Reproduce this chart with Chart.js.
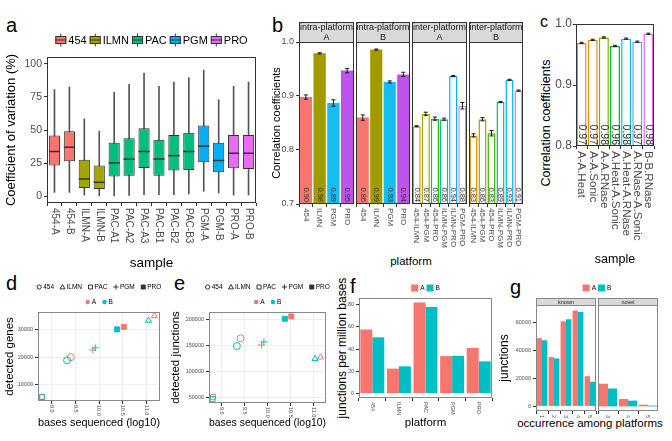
<!DOCTYPE html>
<html>
<head>
<meta charset="utf-8">
<title>Platform comparison</title>
<script src="https://cdn.jsdelivr.net/npm/chart.js@4.4.1/dist/chart.umd.min.js"></script>
<style>
  body { margin: 0; background: #fff; }
  #fig { position: relative; width: 672px; height: 441px; overflow: hidden; font-family: 'Liberation Sans', Arial, sans-serif; color: #000; }
  #fig canvas { position: absolute; }
  .txt { position: absolute; line-height: 1; white-space: nowrap; }
  .mid { transform: translate(-50%, -50%); }
  .up { transform: translate(-50%, -50%) rotate(-90deg); }
</style>
</head>
<body>
<div id="fig">
  <div class="txt" style="left:6px;top:15px;font-size:20px">a</div>
  <div class="txt" style="left:272px;top:15px;font-size:20px">b</div>
  <div class="txt" style="left:540px;top:14px;font-size:16px">c</div>
  <div class="txt" style="left:6px;top:273px;font-size:20px">d</div>
  <div class="txt" style="left:174px;top:273px;font-size:20px">e</div>
  <div class="txt" style="left:350px;top:276px;font-size:20px">f</div>
  <div class="txt" style="left:510px;top:277px;font-size:20px">g</div>
  <div class="txt mid" style="left:411px;top:262px;font-size:11.5px">platform</div>
  <div class="txt up" style="left:546px;top:123px;font-size:12.5px">Correlation coefficients</div>
  <div class="txt up" style="left:342px;top:348px;font-size:12px">junctions per million bases</div>
  <div class="txt mid" style="left:590px;top:424px;font-size:11.5px">occurrence among platforms</div>
</div>
<script>
// ---- data ----
var platforms = ['454', 'ILMN', 'PAC', 'PGM', 'PRO'];
var platformColors = ['#F8766D', '#A3A500', '#00BF7D', '#00B0F6', '#E76BF3'];

// a: coefficient of variation per sample (box plot stats)
var samples = ['454-A', '454-B', 'ILMN-A', 'ILMN-B', 'PAC-A1', 'PAC-A2', 'PAC-A3', 'PAC-B1', 'PAC-B2', 'PAC-B3', 'PGM-A', 'PGM-B', 'PRO-A', 'PRO-B'];
var samplePlatform = ['454', '454', 'ILMN', 'ILMN', 'PAC', 'PAC', 'PAC', 'PAC', 'PAC', 'PAC', 'PGM', 'PGM', 'PRO', 'PRO'];
var cvLow = [3, 3, 1, 0.5, 0, 0.8, 1.3, 1.3, 1.3, 1.8, 3.8, 2.5, 1, 1];
var cvQ1 = [23.2, 26.4, 6.3, 5.5, 14.9, 15.6, 21.4, 15.6, 19.4, 19.9, 25.7, 18.1, 21.2, 20.7];
var cvMedian = [33.8, 37.0, 13.1, 10.6, 25.2, 28.0, 33.8, 28.2, 30.7, 33.8, 37.8, 27.0, 32.5, 32.5];
var cvQ3 = [45.8, 49.1, 27.5, 23.2, 40.3, 43.8, 51.4, 42.6, 46.3, 47.9, 53.4, 40.3, 46.3, 46.3];
var cvHigh = [80.4, 82.4, 58.4, 49.1, 78.6, 84.4, 92.9, 82.9, 86.1, 89.4, 95.0, 72.8, 82.9, 86.1];
var cvTicks = [0, 25, 50, 75, 100];

// b: correlation coefficients
var intraCats = ['454', 'ILMN', 'PGM', 'PRO'];
var intraColors = ['#F8766D', '#A39A00', '#14BEF0', '#BE52EC'];
var intraA = [0.898, 0.979, 0.887, 0.947];
var intraAErr = [0.004, 0.001, 0.006, 0.004];
var intraB = [0.860, 0.986, 0.926, 0.940];
var intraBErr = [0.005, 0.001, 0.002, 0.004];
var interCats = ['454-ILMN', '454-PGM', '454-PRO', 'ILMN-PGM', 'ILMN-PRO', 'PGM-PRO'];
var interColors = ['#D89000', '#A3A500', '#39B600', '#00BF9A', '#00B4F0', '#E07BF0'];
var interA = [0.844, 0.867, 0.858, 0.857, 0.937, 0.882];
var interAErr = [0.001, 0.003, 0.003, 0.002, 0.001, 0.006];
var interB = [0.827, 0.857, 0.831, 0.889, 0.930, 0.910];
var interBErr = [0.003, 0.003, 0.005, 0.001, 0.001, 0.001];
var corrTicks = [0.7, 0.8, 0.9, 1.0];

// c: correlation between library preparations
var pairCats = ['A-A.Heat', 'A-A.Sonic', 'A-A.RNase', 'A.Heat-A.Sonic', 'A.Heat-A.RNase', 'A.RNase-A.Sonic', 'B-B.RNase'];
var pairColors = ['#F8766D', '#E08B00', '#7CAE00', '#00BA38', '#00BFC4', '#619CFF', '#E76BF3'];
var pairCorr = [0.969, 0.974, 0.978, 0.964, 0.976, 0.971, 0.984];
var pairErr = [0.001, 0.001, 0.001, 0.001, 0.001, 0.001, 0.001];
var pairTicks = [0.8, 0.9, 1.0];

// d, e: per platform (order of platforms), samples A and B
var groups = ['A', 'B'];
var groupColors = ['#F8766D', '#00BFC4'];
var shapes = ['circle', 'triangle', 'rect', 'cross', 'rect'];
var basesA = [9.41, 11.16, 8.81, 9.87, 10.52];
var basesB = [9.33, 11.04, 8.80, 9.92, 10.38];
var genesA = [20000, 35000, 5600, 22600, 31000];
var genesB = [18900, 33300, 5500, 23400, 30100];
var junctionsA = [164000, 127500, 51500, 151000, 206000];
var junctionsB = [149000, 124500, 47500, 157000, 201500];
var baseTicks = [9.0, 9.5, 10.0, 10.5, 11.0];
var geneTicks = [10000, 20000, 30000];
var junctionTicks = [50000, 100000, 150000, 200000];

// f: junctions per million bases
var jpmA = [57.6, 22.4, 82.0, 33.7, 41.1];
var jpmB = [50.6, 24.5, 77.9, 34.0, 29.0];
var jpmTicks = [0, 20, 40, 60, 80];

// g: junction occurrence among platforms
var knownCats = ['1', '2', '3', '4', '5'];
var knownA = [48800, 35200, 60800, 68500, 21600];
var knownB = [47300, 34300, 62300, 67500, 17600];
var novelCats = ['3', '4', '5'];
var novelA = [16200, 5300, 1200];
var novelB = [12800, 4100, 600];
var occTicks = [0, 20000, 40000, 60000];

// ---- setup ----
var FONT = "'Liberation Sans', Arial, sans-serif";
Chart.defaults.font.family = FONT;
Chart.defaults.color = '#4D4D4D';
Chart.defaults.animation = false;
Chart.defaults.responsive = false;
Chart.defaults.devicePixelRatio = 1;
Chart.defaults.events = [];
Chart.defaults.plugins.legend.display = false;
Chart.defaults.plugins.tooltip.enabled = false;

function canvasAt(left, top, w, h) {
  var c = document.createElement('canvas');
  c.width = w; c.height = h;
  c.style.left = left + 'px'; c.style.top = top + 'px';
  c.style.width = w + 'px'; c.style.height = h + 'px';
  document.getElementById('fig').appendChild(c);
  return c.getContext('2d');
}
function fixWidth(w) { return function (s) { s.width = w; }; }
function fixHeight(h) { return function (s) { s.height = h; }; }
function useTicks(vals) { return function (s) { s.ticks = vals.map(function (v) { return { value: v }; }); }; }
function tickGrid(onArea) {
  return { drawOnChartArea: !!onArea, color: '#EEEEEE', tickLength: 3, tickColor: '#333' };
}

// ---- plugins ----
var frame = {
  id: 'frame',
  afterDraw: function (chart, args, o) {
    var a = chart.chartArea, ctx = chart.ctx;
    ctx.save();
    ctx.strokeStyle = o.color || '#333';
    ctx.lineWidth = 1;
    ctx.strokeRect(Math.round(a.left) + 0.5, Math.round(a.top) + 0.5, Math.round(a.right - a.left) - 1, Math.round(a.bottom - a.top) - 1);
    ctx.restore();
  }
};

var strip = {
  id: 'strip',
  beforeDraw: function (chart, args, o) {
    if (!o.lines) return;
    var a = chart.chartArea, ctx = chart.ctx, h = o.height;
    ctx.save();
    ctx.fillStyle = '#D9D9D9';
    ctx.fillRect(a.left, a.top - h, a.right - a.left, h);
    ctx.strokeStyle = o.border || '#333';
    ctx.lineWidth = 1;
    ctx.strokeRect(Math.round(a.left) + 0.5, Math.round(a.top - h) + 0.5, Math.round(a.right - a.left) - 1, h);
    ctx.fillStyle = '#1A1A1A';
    ctx.font = o.size + 'px ' + FONT;
    ctx.textAlign = 'center';
    ctx.textBaseline = 'middle';
    o.lines.forEach(function (t, i) {
      ctx.fillText(t, (a.left + a.right) / 2, a.top - h + (i + 0.5) * h / o.lines.length + 0.5);
    });
    ctx.restore();
  }
};

// x tick labels turned clockwise, as in the figure
var vLabels = {
  id: 'vLabels',
  afterDraw: function (chart, args, o) {
    if (!o.size) return;
    var s = chart.scales.x, ctx = chart.ctx;
    ctx.save();
    ctx.font = o.size + 'px ' + FONT;
    ctx.fillStyle = '#4D4D4D';
    ctx.textAlign = 'left';
    ctx.textBaseline = 'middle';
    s.ticks.forEach(function (t, i) {
      ctx.save();
      ctx.translate(s.getPixelForTick(i), chart.chartArea.bottom + o.gap);
      ctx.rotate(Math.PI / 2);
      ctx.fillText(t.label, 0, 0);
      ctx.restore();
    });
    ctx.restore();
  }
};

var errBars = {
  id: 'errBars',
  afterDatasetsDraw: function (chart, args, o) {
    if (!o.err) return;
    var ctx = chart.ctx, y = chart.scales.y, vals = chart.data.datasets[0].data;
    ctx.save();
    ctx.strokeStyle = '#1A1A1A';
    ctx.lineWidth = 1;
    chart.getDatasetMeta(0).data.forEach(function (bar, i) {
      var top = y.getPixelForValue(vals[i] + o.err[i]), bot = y.getPixelForValue(vals[i] - o.err[i]);
      ctx.beginPath();
      ctx.moveTo(bar.x, top); ctx.lineTo(bar.x, bot);
      ctx.moveTo(bar.x - o.cap, top); ctx.lineTo(bar.x + o.cap, top);
      ctx.moveTo(bar.x - o.cap, bot); ctx.lineTo(bar.x + o.cap, bot);
      ctx.stroke();
    });
    ctx.restore();
  }
};

// value written upright inside the bottom of each bar
var barText = {
  id: 'barText',
  afterDatasetsDraw: function (chart, args, o) {
    if (!o.size) return;
    var ctx = chart.ctx, vals = chart.data.datasets[0].data;
    ctx.save();
    ctx.font = o.size + 'px ' + FONT;
    ctx.fillStyle = '#333';
    ctx.textAlign = 'right';
    ctx.textBaseline = 'middle';
    chart.getDatasetMeta(0).data.forEach(function (bar, i) {
      ctx.save();
      ctx.translate(bar.x, chart.chartArea.bottom - o.gap);
      ctx.rotate(Math.PI / 2);
      ctx.fillText(vals[i].toFixed(2), 0, 0);
      ctx.restore();
    });
    ctx.restore();
  }
};

var medians = {
  id: 'medians',
  afterDatasetsDraw: function (chart, args, o) {
    if (!o.values) return;
    var ctx = chart.ctx, y = chart.scales.y;
    ctx.save();
    ctx.strokeStyle = '#333';
    ctx.lineWidth = 1.5;
    chart.getDatasetMeta(o.dataset).data.forEach(function (bar, i) {
      var py = y.getPixelForValue(o.values[i]);
      ctx.beginPath();
      ctx.moveTo(bar.x - bar.width / 2, py);
      ctx.lineTo(bar.x + bar.width / 2, py);
      ctx.stroke();
    });
    ctx.restore();
  }
};

// keyShape / keyFill / keyText: own names so chart option defaults never leak in
function drawSymbol(ctx, it, x, y, s) {
  var r = s / 2, shape = it.keyShape, paint = it.keyFill || '';
  ctx.save();
  ctx.lineWidth = 1;
  ctx.strokeStyle = '#333';
  if (paint) ctx.fillStyle = paint;
  if (shape === 'box') {
    ctx.beginPath(); ctx.moveTo(x, y - r - 1); ctx.lineTo(x, y + r + 1); ctx.stroke();
    ctx.fillRect(x - r, y - 4, s, 8);
    ctx.strokeRect(x - r + 0.5, y - 3.5, s - 1, 7);
    ctx.beginPath(); ctx.moveTo(x - r, y); ctx.lineTo(x + r, y); ctx.stroke();
  } else if (shape === 'swatch') {
    ctx.fillRect(x - r, y - r, s, s);
  } else if (shape === 'dot') {
    ctx.beginPath(); ctx.arc(x, y, r * 0.9, 0, Math.PI * 2); ctx.fill();
  } else {
    ctx.beginPath();
    if (shape === 'circle') ctx.arc(x, y, r * 0.85, 0, Math.PI * 2);
    if (shape === 'triangle') { ctx.moveTo(x, y - r); ctx.lineTo(x + r, y + r * 0.75); ctx.lineTo(x - r, y + r * 0.75); ctx.closePath(); }
    if (shape === 'square') ctx.rect(x - r * 0.8, y - r * 0.8, r * 1.6, r * 1.6);
    if (shape === 'cross') { ctx.moveTo(x - r, y); ctx.lineTo(x + r, y); ctx.moveTo(x, y - r); ctx.lineTo(x, y + r); }
    if (paint) ctx.fill();
    ctx.stroke();
  }
  ctx.restore();
}

// ggplot-like legend rows placed above the panel
var keys = {
  id: 'keys',
  afterDraw: function (chart, args, o) {
    if (!o.rows) return;
    var ctx = chart.ctx, a = chart.chartArea;
    ctx.save();
    ctx.font = o.size + 'px ' + FONT;
    ctx.textAlign = 'left';
    ctx.textBaseline = 'middle';
    o.rows.forEach(function (row) {
      var items = row.items;
      var widths = items.map(function (it) { return o.sym + o.gap + ctx.measureText(it.keyText).width; });
      var total = widths.reduce(function (t, w) { return t + w; }, 0) + o.sep * (widths.length - 1);
      var cx = o.cx ? a.left + o.cx : (a.left + a.right) / 2;
      var x = cx - total / 2, y = a.top + row.dy;
      items.forEach(function (it, i) {
        drawSymbol(ctx, it, x + o.sym / 2, y, o.sym);
        ctx.fillStyle = '#000';
        ctx.fillText(it.keyText, x + o.sym + o.gap, y + 0.5);
        x += widths[i] + o.sep;
      });
    });
    ctx.restore();
  }
};

// ---- a: box plots ----
new Chart(canvasAt(0, 27, 260, 248), {
  type: 'bar',
  data: {
    labels: samples,
    datasets: [{
      data: samples.map(function (s, i) { return [cvLow[i], cvHigh[i]]; }),
      backgroundColor: '#555',
      barThickness: 1,
      grouped: false,
      order: 2
    }, {
      data: samples.map(function (s, i) { return [cvQ1[i], cvQ3[i]]; }),
      backgroundColor: samplePlatform.map(function (p) { return platformColors[platforms.indexOf(p)]; }),
      borderColor: '#333',
      borderWidth: 1,
      borderSkipped: false,
      barPercentage: 0.75,
      categoryPercentage: 1,
      grouped: false,
      order: 1
    }]
  },
  options: {
    layout: { padding: { top: 30, right: 4 } },
    scales: {
      x: {
        ticks: { display: false },
        grid: tickGrid(false),
        border: { display: false },
        afterFit: fixHeight(72),
        title: { display: true, text: 'sample', color: '#000', font: { size: 13.5 }, padding: { top: 0, bottom: 4 } }
      },
      y: {
        min: -5, max: 105,
        afterBuildTicks: useTicks(cvTicks),
        ticks: { font: { size: 10.5 }, padding: 2, callback: function (v) { return String(v); } },
        grid: tickGrid(false),
        border: { display: false },
        afterFit: fixWidth(47),
        title: { display: true, text: 'Coefficient of variation (%)', color: '#000', font: { size: 13 }, padding: { top: 4, bottom: 0 } }
      }
    },
    plugins: {
      medians: { dataset: 1, values: cvMedian },
      vLabels: { size: 10, gap: 5 },
      keys: {
        size: 11, sym: 11, gap: 2, sep: 3,
        rows: [{ dy: -17, items: platforms.map(function (p, i) { return { keyShape: 'box', keyFill: platformColors[i], keyText: p }; }) }]
      }
    }
  },
  plugins: [frame, vLabels, medians, keys]
});

// ---- b: faceted correlation bars ----
function corrFacet(left, width, cats, vals, errs, colors, filled, lines, withAxis) {
  var axisW = withAxis ? 33 : 0;
  return new Chart(canvasAt(left - axisW, 22, width + axisW, 227), {
    type: 'bar',
    data: {
      labels: cats,
      datasets: [{
        data: vals,
        base: 0.7,
        backgroundColor: filled ? colors : '#FFFFFF',
        borderColor: colors,
        borderWidth: filled ? 0 : 1.5,
        barPercentage: 0.9,
        categoryPercentage: 1
      }]
    },
    options: {
      layout: { padding: { top: 20 } },
      scales: {
        x: { ticks: { display: false }, grid: tickGrid(false), border: { display: false }, afterFit: fixHeight(45) },
        y: {
          display: withAxis,
          min: 0.7, max: 1.0,
          afterBuildTicks: useTicks(corrTicks),
          ticks: { font: { size: 9 }, padding: 2, callback: function (v) { return v.toFixed(1); } },
          grid: tickGrid(false),
          border: { display: false },
          afterFit: fixWidth(axisW),
          title: { display: true, text: 'Correlation coefficients', color: '#000', font: { size: 11 }, padding: { top: 4, bottom: 0 } }
        }
      },
      plugins: {
        strip: { lines: lines, height: 20, size: 9 },
        errBars: { err: errs, cap: 2 },
        barText: { size: 7.5, gap: 2 },
        vLabels: { size: 8, gap: 4 }
      }
    },
    plugins: [frame, strip, vLabels, errBars, barText]
  });
}
corrFacet(299, 55, intraCats, intraA, intraAErr, intraColors, true, ['intra-platform', 'A'], true);
corrFacet(356, 54, intraCats, intraB, intraBErr, intraColors, true, ['intra-platform', 'B'], false);
corrFacet(412, 55, interCats, interA, interAErr, interColors, false, ['inter-platform', 'A'], false);
corrFacet(469, 54, interCats, interB, interBErr, interColors, false, ['inter-platform', 'B'], false);

// ---- c: library preparation pairs ----
new Chart(canvasAt(534, 14, 124, 257), {
  type: 'bar',
  data: {
    labels: pairCats,
    datasets: [{
      data: pairCorr,
      base: 0.8,
      backgroundColor: '#FFFFFF',
      borderColor: pairColors,
      borderWidth: 1.5,
      barPercentage: 0.9,
      categoryPercentage: 1
    }]
  },
  options: {
    layout: { padding: { top: 10, right: 4 } },
    scales: {
      x: {
        ticks: { display: false }, grid: tickGrid(false), border: { display: false },
        afterFit: fixHeight(125),
        title: { display: true, text: 'sample', color: '#000', font: { size: 12.5 }, padding: { top: 0, bottom: 4 } }
      },
      y: {
        min: 0.8, max: 1.0,
        afterBuildTicks: useTicks(pairTicks),
        ticks: { font: { size: 12 }, padding: 1, callback: function (v) { return v.toFixed(1); } },
        grid: tickGrid(false), border: { display: false },
        afterFit: fixWidth(42)
      }
    },
    plugins: {
      errBars: { err: pairErr, cap: 2 },
      barText: { size: 10.5, gap: 1 },
      vLabels: { size: 11.5, gap: 5 }
    }
  },
  plugins: [frame, vLabels, errBars, barText]
});

// ---- d, e: scatter against sequencing depth ----
var shapeKeys = [
  { keyShape: 'circle', keyText: '454' }, { keyShape: 'triangle', keyText: 'ILMN' }, { keyShape: 'square', keyText: 'PAC' },
  { keyShape: 'cross', keyText: 'PGM' }, { keyShape: 'square', keyFill: '#333', keyText: 'PRO' }
];
var groupKeys = groups.map(function (g, i) { return { keyShape: 'dot', keyFill: groupColors[i], keyText: g }; });

function scatterSet(xs, ys, color, order) {
  return {
    data: xs.map(function (x, i) { return { x: x, y: ys[i] }; }),
    pointStyle: shapes,
    pointRadius: 3.5,
    pointBorderWidth: 1,
    pointBorderColor: color,
    pointBackgroundColor: platforms.map(function (p) { return p === 'PRO' ? color : 'rgba(0,0,0,0)'; }),
    order: order
  };
}
function depthChart(left, axisW, xH, ysA, ysB, yTicks, yMin, yMax, yTitle) {
  return new Chart(canvasAt(left, 282, 165, 152), {
    type: 'scatter',
    data: { datasets: [scatterSet(basesA, ysA, groupColors[0], 1), scatterSet(basesB, ysB, groupColors[1], 0)] },
    options: {
      layout: { padding: { top: 30, right: 4 } },
      scales: {
        x: {
          min: 8.72, max: 11.28,
          afterBuildTicks: useTicks(baseTicks),
          ticks: { display: false, callback: function (v) { return v.toFixed(1); } },
          grid: tickGrid(true), border: { display: false },
          afterFit: fixHeight(xH),
          title: { display: true, text: 'bases sequenced (log10)', color: '#000', font: { size: 11.5 }, padding: { top: 0, bottom: 4 } }
        },
        y: {
          min: yMin, max: yMax,
          afterBuildTicks: useTicks(yTicks),
          ticks: { font: { size: 5.5 }, padding: 2, callback: function (v) { return String(v); } },
          grid: tickGrid(true), border: { display: false },
          afterFit: fixWidth(axisW),
          title: { display: true, text: yTitle, color: '#000', font: { size: 11.5 }, padding: { top: 3, bottom: 0 } }
        }
      },
      plugins: {
        vLabels: { size: 5.5, gap: 4 },
        frame: { color: '#888' },
        keys: { size: 6.5, sym: 5, gap: 1.5, sep: 6, rows: [{ dy: -25, items: shapeKeys }, { dy: -10, items: groupKeys }] }
      }
    },
    plugins: [frame, vLabels, keys]
  });
}
depthChart(0, 38, 33, genesA, genesB, geneTicks, 4100, 36400, 'detected genes');
depthChart(166, 43, 31, junctionsA, junctionsB, junctionTicks, 39500, 214500, 'detected junctions');

// ---- f: junctions per million bases ----
var swatchKeys = groups.map(function (g, i) { return { keyShape: 'swatch', keyFill: groupColors[i], keyText: g }; });
new Chart(canvasAt(331, 278, 165, 156), {
  type: 'bar',
  data: {
    labels: platforms,
    datasets: [
      { data: jpmA, backgroundColor: groupColors[0], categoryPercentage: 0.9, barPercentage: 1 },
      { data: jpmB, backgroundColor: groupColors[1], categoryPercentage: 0.9, barPercentage: 1 }
    ]
  },
  options: {
    layout: { padding: { top: 20, right: 4 } },
    scales: {
      x: {
        ticks: { display: false }, grid: tickGrid(false), border: { display: false },
        afterFit: fixHeight(36),
        title: { display: true, text: 'platform', color: '#000', font: { size: 11.5 }, padding: { top: 0, bottom: 4 } }
      },
      y: {
        min: -4, max: 86,
        afterBuildTicks: useTicks(jpmTicks),
        ticks: { font: { size: 5.5 }, padding: 2, callback: function (v) { return String(v); } },
        grid: tickGrid(false), border: { display: false },
        afterFit: fixWidth(28)
      }
    },
    plugins: {
      vLabels: { size: 5.5, gap: 4 },
      frame: { color: '#888' },
      keys: { size: 6.5, sym: 7, gap: 2, sep: 2, rows: [{ dy: -10, items: swatchKeys }] }
    }
  },
  plugins: [frame, vLabels, keys]
});

// ---- g: occurrence among platforms, known / novel ----
// the known facet's canvas reaches past its panel so the shared legend is not cut
function occFacet(left, width, axisW, padRight, cats, valsA, valsB, label, withKeys) {
  return new Chart(canvasAt(left, 278, width + axisW + padRight, 153), {
    type: 'bar',
    data: {
      labels: cats,
      datasets: [
        { data: valsA, backgroundColor: groupColors[0], categoryPercentage: 0.9, barPercentage: 1 },
        { data: valsB, backgroundColor: groupColors[1], categoryPercentage: 0.9, barPercentage: 1 }
      ]
    },
    options: {
      layout: { padding: { top: 27, right: padRight } },
      scales: {
        x: { ticks: { display: false }, grid: tickGrid(false), border: { display: false }, afterFit: fixHeight(20) },
        y: {
          display: axisW > 0,
          min: -3300, max: 72500,
          afterBuildTicks: useTicks(occTicks),
          ticks: { font: { size: 5.5 }, padding: 2, callback: function (v) { return String(v); } },
          grid: tickGrid(false), border: { display: false },
          afterFit: fixWidth(axisW),
          title: { display: true, text: 'junctions', color: '#000', font: { size: 12 }, padding: { top: 3, bottom: 0 } }
        }
      },
      plugins: {
        strip: { lines: [label], height: 7, size: 5.5, border: '#888' },
        vLabels: { size: 5.5, gap: 4 },
        frame: { color: '#888' },
        keys: withKeys ? { size: 6.5, sym: 7, gap: 2, sep: 2, cx: 61, rows: [{ dy: -17, items: swatchKeys }] } : {}
      }
    },
    plugins: [frame, strip, vLabels, keys]
  });
}
occFacet(494, 60, 42, 30, knownCats, knownA, knownB, 'known', true);
occFacet(598, 60, 0, 0, novelCats, novelA, novelB, 'novel', false);
</script>
</body>
</html>
